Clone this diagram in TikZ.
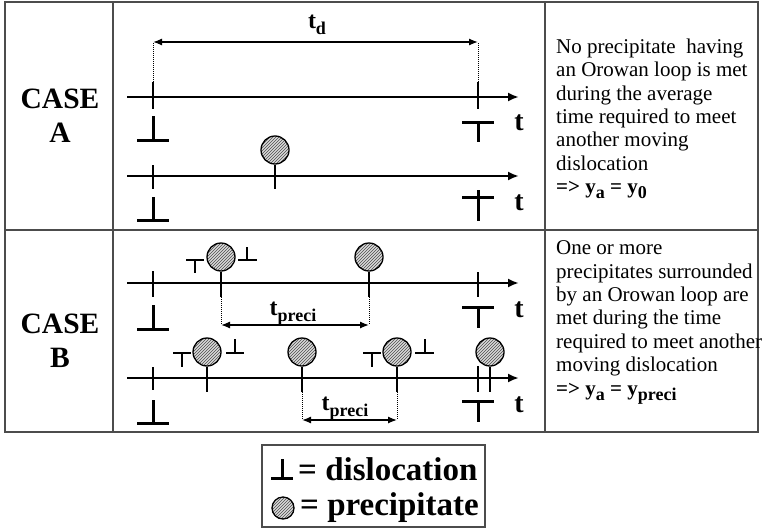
\documentclass[tikz,border=0pt]{standalone}
\usepackage{fontspec}
\setmainfont{Liberation Serif}
\usetikzlibrary{arrows.meta,patterns,positioning}
\tikzset{
  borde/.style={line width=1.3pt,black!70},
  eje/.style={line width=2.2pt,-{Latex[length=11pt,width=9pt]}},
  marca/.style={line width=2.6pt},
  disl/.style={line width=3pt},
  dislchica/.style={line width=2pt},
  prec/.style={circle,draw,line width=1.3pt,minimum size=28pt,inner sep=0pt,
    preaction={fill=gray!30},pattern=north east lines,pattern color=black!70},
  cota/.style={line width=1.3pt,{Latex[length=9pt,width=7pt]}-{Latex[length=9pt,width=7pt]}},
  guia/.style={line width=1pt,densely dotted},
  tlab/.style={font=\bfseries\fontsize{28}{28}\selectfont,inner sep=0pt,anchor=base},
  tcota/.style={font=\bfseries\fontsize{24}{24}\selectfont,inner sep=0pt,anchor=base},
  caso/.style={font=\bfseries\fontsize{29.5}{34}\selectfont,align=center,inner sep=0pt},
  texto/.style={font=\fontsize{21}{23.4}\selectfont,align=left,inner sep=0pt,anchor=north west},
  leyenda/.style={font=\bfseries\fontsize{33}{33}\selectfont,inner sep=0pt,anchor=base west}
}
\newcommand{\subidx}[1]{\raisebox{-0.25em}{\fontsize{18}{18}\selectfont #1}}

\begin{document}
\begin{tikzpicture}[x=1pt,y=-1pt]
\useasboundingbox (0,0) rectangle (762,530);
% tabla
\draw[borde] (5,2) rectangle (758,432);
\draw[borde] (113,2) -- (113,432) (545,2) -- (545,432) (5,230) -- (758,230);
\node[caso] (casoA) at (60,116) {CASE\\A};
\node[caso] (casoB) at (60,341) {CASE\\B};
\node[texto] (txtA) at (556,38.5) {No precipitate\ \ having\\an Orowan loop is met\\during the average\\time required to meet\\another moving\\dislocation\\{\bfseries => y\subidx{a} = y\subidx{0}}};
\node[texto] (txtB) at (556,240.5) {One or more\\precipitates surrounded\\by an Orowan loop are\\met during the time\\required to meet another\\moving dislocation\\{\bfseries => y\subidx{a} = y\subidx{preci}}};

% caso A, primer eje
\coordinate (a1s) at (127,97); \coordinate (a1e) at (519,97);
\draw[eje] (a1s) -- (a1e);
\coordinate (m1) at (153,82); \coordinate (m2) at (478,82);
\draw[marca] (m1) -- (153,109) (m2) -- (478,109);
\draw[disl] (153,116) -- (153,140) (137,140) -- (169,140);
\draw[disl] (462,122) -- (494,122) (478,122) -- (478,142);
\node[tlab] (tA1) at (519,130) {t};
\coordinate (d1) at (153,42); \coordinate (d2) at (478,42);
\draw[guia] (m1) -- (d1) (m2) -- (d2);
\draw[cota] (d1) -- (d2);
\node[tcota] (td) at (317,28) {t\subidx{d}};

% caso A, segundo eje
\coordinate (a2s) at (127,176); \coordinate (a2e) at (519,176);
\draw[eje] (a2s) -- (a2e);
\draw[marca] (153,165) -- (153,189);
\node[prec] (pA) at (275,150) {};
\draw[marca] (pA.south) -- (275,189);
\draw[disl] (153,197) -- (153,220) (137,220) -- (169,220);
\draw[disl] (462,197) -- (494,197) (478,190) -- (478,221);
\node[tlab] (tA2) at (519,210) {t};

% caso B, primer eje
\coordinate (b1s) at (127,283); \coordinate (b1e) at (519,283);
\draw[eje] (b1s) -- (b1e);
\draw[marca] (153,271) -- (153,297) (478,272) -- (478,297);
\draw[disl] (153,305) -- (153,329) (137,329) -- (169,329);
\draw[disl] (462,307) -- (494,307) (478,307) -- (478,328);
\node[prec] (pB1) at (221,257) {};
\node[prec] (pB2) at (369,257) {};
\coordinate (s1) at (221,297); \coordinate (s2) at (369,297);
\draw[marca] (pB1.south) -- (s1) (pB2.south) -- (s2);
\draw[dislchica] (186,260) -- (204,260) (195,260) -- (195,273);
\draw[dislchica] (247,247) -- (247,260) (238,260) -- (257,260);
\coordinate (e1) at (221,325); \coordinate (e2) at (369,325);
\draw[guia] (s1) -- (e1) (s2) -- (e2);
\draw[cota] (e1) -- (e2);
\node[tcota] (tp1) at (293,315) {t\subidx{preci}};
\node[tlab] (tB1) at (519,317) {t};

% caso B, segundo eje
\coordinate (b2s) at (127,378); \coordinate (b2e) at (519,378);
\draw[eje] (b2s) -- (b2e);
\draw[marca] (153,367) -- (153,390) (478,366) -- (478,392);
\draw[disl] (153,400) -- (153,423) (137,423) -- (169,423);
\draw[disl] (462,401) -- (494,401) (478,401) -- (478,422);
\foreach \n/\x in {3/207,4/302,5/397,6/490}{
  \node[prec] (pB\n) at (\x,352) {};
  \draw[marca] (pB\n.south) -- (\x,392);
}
\draw[dislchica] (173,353) -- (191,353) (182,353) -- (182,367);
\draw[dislchica] (235,339) -- (235,353) (226,353) -- (244,353);
\draw[dislchica] (363,353) -- (381,353) (372,353) -- (372,367);
\draw[dislchica] (425,339) -- (425,353) (415,353) -- (434,353);
\coordinate (s4) at (302,392); \coordinate (s5) at (397,392);
\coordinate (e4) at (302,420); \coordinate (e5) at (397,420);
\draw[guia] (s4) -- (e4) (s5) -- (e5);
\draw[cota] (e4) -- (e5);
\node[tcota] (tp2) at (345,410) {t\subidx{preci}};
\node[tlab] (tB2) at (519,412) {t};

% leyenda
\draw[borde] (262,445) rectangle (485,527);
\draw[disl] (282,459) -- (282,478) (271,478) -- (293,478);
\node[leyenda] (ldisl) at (298,480) {= dislocation};
\node[prec,minimum size=22pt] (lprec) at (283,508) {};
\node[leyenda] (lprec2) at (300,515) {= precipitate};
\end{tikzpicture}
\end{document}
